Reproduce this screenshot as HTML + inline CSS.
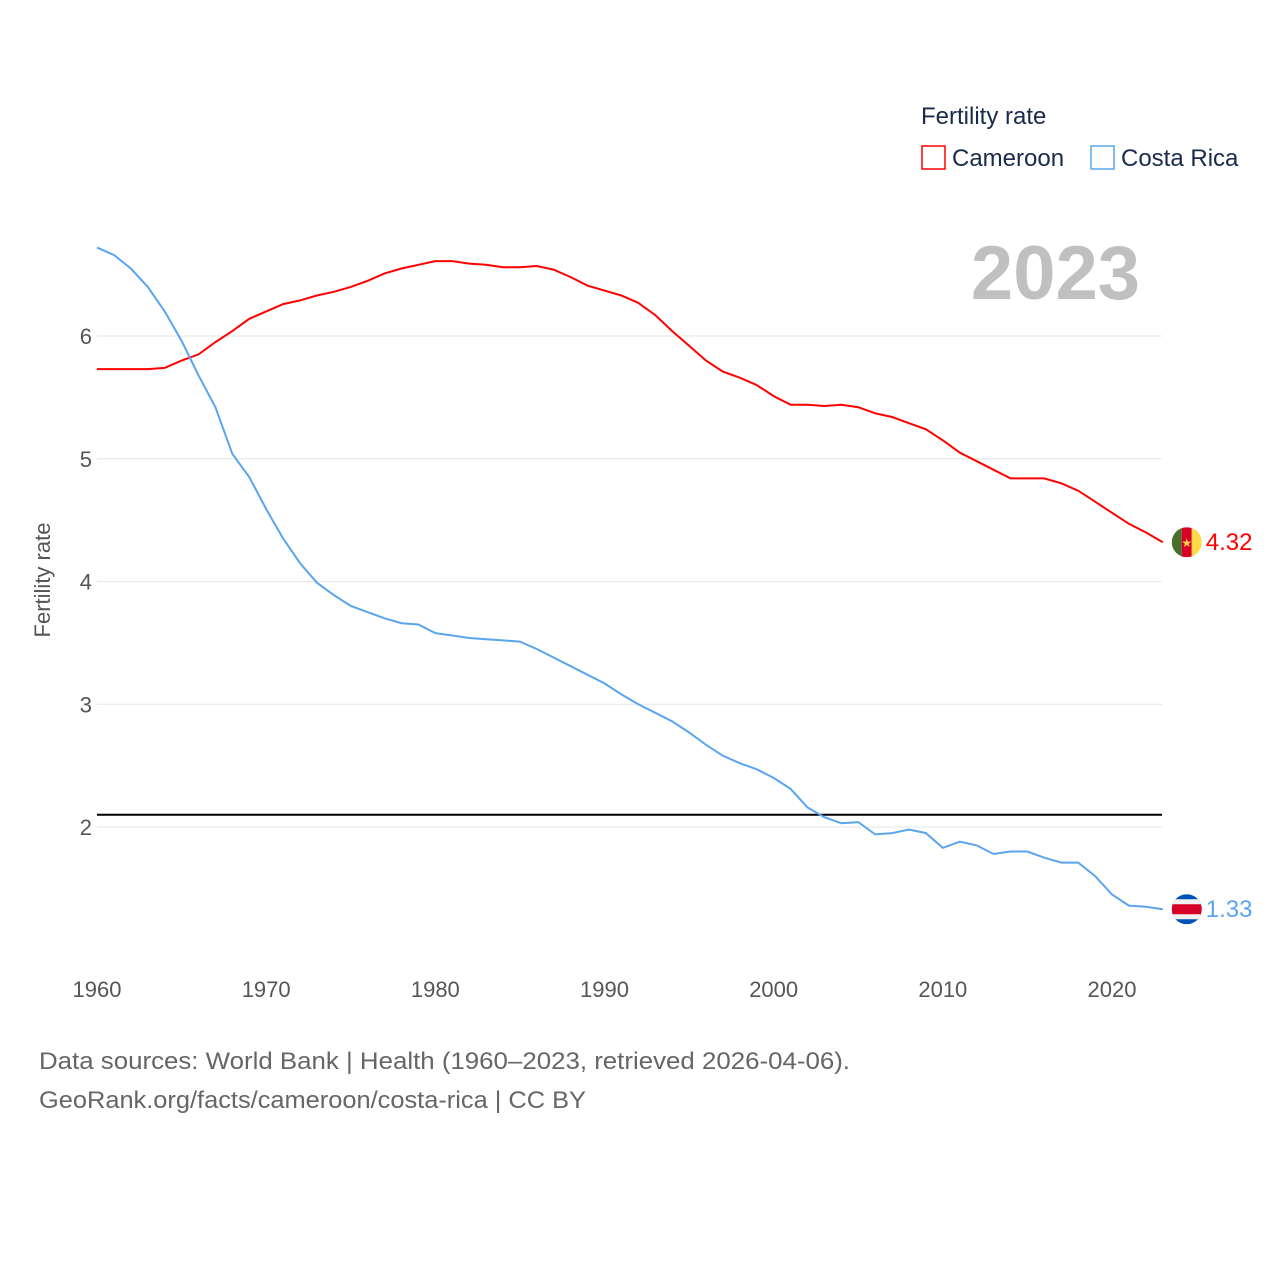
<!DOCTYPE html>
<html><head><meta charset="utf-8"><style>
body{margin:0;background:#fff;font-family:"Liberation Sans",sans-serif;}
svg text{font-family:"Liberation Sans",sans-serif;}
</style></head><body>
<svg id="chart" width="1280" height="1280" xmlns="http://www.w3.org/2000/svg">
<rect width="1280" height="1280" fill="#fff"/>
<g id="grid"></g>
<g id="yticks"></g>
<g id="xticks"></g>
<text x="50" y="580" transform="rotate(-90 50 580)" text-anchor="middle" font-size="22" fill="#555">Fertility rate</text>
<text x="1140" y="299" text-anchor="end" font-size="76" font-weight="bold" fill="#c0c0c0">2023</text>
<g>
<text x="921" y="124" font-size="24" fill="#1a2a4a">Fertility rate</text>
<g><rect x="922" y="146" width="23" height="23" fill="none" stroke="#ff0000" stroke-width="1.5"/><text x="952" y="166" font-size="24" fill="#1a2a4a">Cameroon</text></g>
<g><rect x="1091" y="146" width="23" height="23" fill="none" stroke="#5aa5ee" stroke-width="1.5"/><text x="1121" y="166" font-size="24" fill="#1a2a4a">Costa Rica</text></g>
</g>
<g id="series"></g>
<text x="39" y="1069" font-size="24" fill="#666" textLength="811" lengthAdjust="spacingAndGlyphs">Data sources: World Bank | Health (1960–2023, retrieved 2026-04-06).</text>
<text x="39" y="1108" font-size="24" fill="#666" textLength="547" lengthAdjust="spacingAndGlyphs">GeoRank.org/facts/cameroon/costa-rica | CC BY</text>
</svg>
<script>
const years=[];for(let y=1960;y<=2023;y++)years.push(y);
const cameroon=[5.73,5.73,5.73,5.73,5.74,5.80,5.85,5.95,6.04,6.14,6.20,6.26,6.29,6.33,6.36,6.40,6.45,6.51,6.55,6.58,6.61,6.61,6.59,6.58,6.56,6.56,6.57,6.54,6.48,6.41,6.37,6.33,6.27,6.17,6.04,5.92,5.80,5.71,5.66,5.60,5.51,5.44,5.44,5.43,5.44,5.42,5.37,5.34,5.29,5.24,5.15,5.05,4.98,4.91,4.84,4.84,4.84,4.80,4.74,4.65,4.56,4.47,4.40,4.32];
const costaRica=[6.72,6.66,6.55,6.40,6.20,5.96,5.68,5.42,5.04,4.85,4.59,4.35,4.15,3.99,3.89,3.80,3.75,3.70,3.66,3.65,3.58,3.56,3.54,3.53,3.52,3.51,3.45,3.38,3.31,3.24,3.17,3.08,3.00,2.93,2.86,2.77,2.67,2.58,2.52,2.47,2.40,2.31,2.16,2.08,2.03,2.04,1.94,1.95,1.98,1.95,1.83,1.88,1.85,1.78,1.80,1.80,1.75,1.71,1.71,1.60,1.45,1.36,1.35,1.33];
const yTicks=[2,3,4,5,6];
const xTicks=[1960,1970,1980,1990,2000,2010,2020];
const replacement=2.1;
const NS="http://www.w3.org/2000/svg";
const X=v=>97+(v-1960)*(1112-97)/60;
const Y=v=>827-(v-2)*122.75;
function mk(t,a,p){const e=document.createElementNS(NS,t);for(const k in a)e.setAttribute(k,a[k]);p.appendChild(e);return e;}
const grid=document.getElementById('grid'),yt=document.getElementById('yticks'),xt=document.getElementById('xticks'),ser=document.getElementById('series');
yTicks.forEach(v=>{
 const l=mk('line',{x1:97,x2:1162,y1:Y(v),y2:Y(v),stroke:'#e6e6e6','stroke-width':1},grid);
 
 
 const t=mk('text',{x:92,y:Y(v)+8,'text-anchor':'end','font-size':22,fill:'#555'},yt);t.textContent=v;
 
 
});
xTicks.forEach(v=>{
 const t=mk('text',{x:X(v),y:997,'text-anchor':'middle','font-size':22,fill:'#555'},xt);t.textContent=v;
 
 
});
const rl=mk('line',{x1:97,x2:1162,y1:Y(replacement),y2:Y(replacement),stroke:'#000','stroke-width':2},ser);


function line(data,color,name){
 const p=mk('path',{d:data.map((v,i)=>(i?'L':'M')+X(years[i]).toFixed(1)+','+Y(v).toFixed(1)).join(''),fill:'none',stroke:color,'stroke-width':2},ser);
 
 
}
line(cameroon,'#ff0000','cameroon-line');
line(costaRica,'#5aa5ee','costa-rica-line');
const lc=cameroon[cameroon.length-1],lr=costaRica[costaRica.length-1];
const ex=X(2023);
const g1=mk('g',{},ser);


mk('clipPath',{id:'c1'},g1);mk('circle',{cx:ex+24,cy:Y(lc),r:15},g1.lastChild);
const f1=mk('g',{'clip-path':'url(#c1)'},g1);
mk('rect',{x:ex+9,y:Y(lc)-15,width:10,height:30,fill:'#496e2d'},f1);
mk('rect',{x:ex+19,y:Y(lc)-15,width:10,height:30,fill:'#d80027'},f1);
mk('rect',{x:ex+29,y:Y(lc)-15,width:10,height:30,fill:'#ffda44'},f1);
const s=mk('text',{x:ex+24,y:Y(lc)+5,'text-anchor':'middle','font-size':12,fill:'#ffda44'},f1);s.textContent='★';
const t1=mk('text',{x:ex+43,y:Y(lc)+8,'font-size':24,fill:'#ff0000'},ser);t1.textContent=lc.toFixed(2);


const g2=mk('g',{},ser);


mk('clipPath',{id:'c2'},g2);mk('circle',{cx:ex+24,cy:Y(lr),r:15},g2.lastChild);
const f2=mk('g',{'clip-path':'url(#c2)'},g2);
mk('rect',{x:ex+9,y:Y(lr)-15,width:30,height:30,fill:'#0052b4'},f2);
mk('rect',{x:ex+9,y:Y(lr)-10,width:30,height:20,fill:'#f0f0f0'},f2);
mk('rect',{x:ex+9,y:Y(lr)-5,width:30,height:10,fill:'#d80027'},f2);
const t2=mk('text',{x:ex+43,y:Y(lr)+8,'font-size':24,fill:'#5aa5ee'},ser);t2.textContent=lr.toFixed(2);


</script>
</body></html>
